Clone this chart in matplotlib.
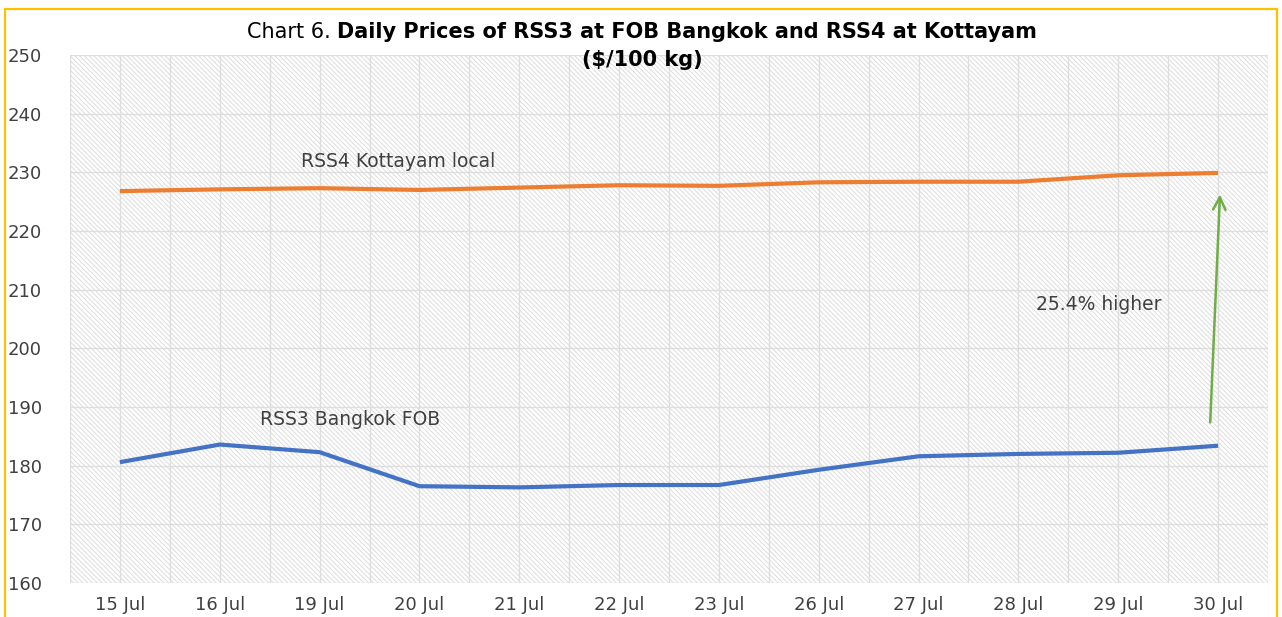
import matplotlib
matplotlib.use("Agg")
import matplotlib.pyplot as plt
from matplotlib.patches import Rectangle

dates = ["15 Jul", "16 Jul", "19 Jul", "20 Jul", "21 Jul", "22 Jul",
         "23 Jul", "26 Jul", "27 Jul", "28 Jul", "29 Jul", "30 Jul"]
rss4_kottayam = [226.8, 227.1, 227.3, 227.0, 227.4, 227.8,
                 227.7, 228.3, 228.4, 228.4, 229.5, 229.9]
rss3_bangkok = [180.6, 183.6, 182.3, 176.5, 176.3, 176.7,
                176.7, 179.3, 181.6, 182.0, 182.2, 183.4]
y_ticks = [160, 170, 180, 190, 200, 210, 220, 230, 240, 250]

plt.rcParams['font.family'] = ['DejaVu Sans']
plt.rcParams['hatch.linewidth'] = 0.7
W, H = 1282, 617
fig = plt.figure(figsize=(W / 100, H / 100), dpi=100)
fig.patch.set_facecolor('white')

ax = fig.add_axes([70 / W, 1 - 583 / H, (1268 - 70) / W, (583 - 55) / H])
ax.set_xlim(-0.5, len(dates) - 0.5)
ax.set_ylim(160, 250)

# hatched background
bg = Rectangle((0, 0), 1, 1, transform=ax.transAxes, facecolor='white',
               edgecolor='#DCDCDC', lw=0, hatch='\\' * 7, zorder=0)
ax.add_patch(bg)

# grid
for yv in y_ticks:
    ax.axhline(yv, color='#DEDEDE', lw=1.0, zorder=1)
for i in range(len(dates) * 2 + 1):
    ax.axvline(-0.5 + i * 0.5, color='#DEDEDE', lw=1.0, zorder=1)

x = list(range(len(dates)))
ax.plot(x, rss4_kottayam, color='#ED7D31', lw=3, solid_capstyle='butt', zorder=3)
ax.plot(x, rss3_bangkok, color='#4472C4', lw=3, solid_capstyle='butt', zorder=3)

ax.set_xticks(x)
ax.set_xticklabels(dates)
ax.set_yticks(y_ticks)
ax.tick_params(axis='both', length=0, labelsize=13, colors='#404040')
ax.tick_params(axis='x', pad=9)
for lab in ax.get_yticklabels():
    lab.set_horizontalalignment('left')
ax.tick_params(axis='y', pad=45)
for s in ax.spines.values():
    s.set_visible(False)

ax.text(2.79, 231.8, "RSS4 Kottayam local", ha='center', va='center',
        fontsize=13.5, color='#404040', zorder=4)
ax.text(2.31, 187.8, "RSS3 Bangkok FOB", ha='center', va='center',
        fontsize=13.5, color='#404040', zorder=4)
ax.text(9.8, 207.4, "25.4% higher", ha='center', va='center',
        fontsize=13.5, color='#404040', zorder=4)
ax.annotate("", xy=(11.02, 226.7), xytext=(10.92, 186.9),
            arrowprops=dict(arrowstyle='->,head_length=0.9,head_width=0.45',
                            color='#70AD47', lw=1.8), zorder=4)

# title
fig.canvas.draw()
r = fig.canvas.get_renderer()
t1 = fig.text(0, 1 - 32 / H, "Chart 6. ", fontsize=15, ha='left', va='center', color='black')
t2 = fig.text(0, 1 - 32 / H, "Daily Prices of RSS3 at FOB Bangkok and RSS4 at Kottayam",
              fontsize=15, fontweight='bold', ha='left', va='center', color='black')
w1 = t1.get_window_extent(r).width
w2 = t2.get_window_extent(r).width
x0 = 642 - (w1 + w2) / 2
t1.set_x(x0 / W)
t2.set_x((x0 + w1) / W)
fig.text(642 / W, 1 - 60 / H, "($/100 kg)", fontsize=15, fontweight='bold',
         ha='center', va='center', color='black')

# yellow border
fig.add_artist(Rectangle((5 / W, -0.05), (1277 - 5) / W, 1 - 9 / H + 0.05,
                         transform=fig.transFigure, fill=False,
                         edgecolor='#FFC000', lw=1.6))

fig.savefig("out.png", dpi=100)
